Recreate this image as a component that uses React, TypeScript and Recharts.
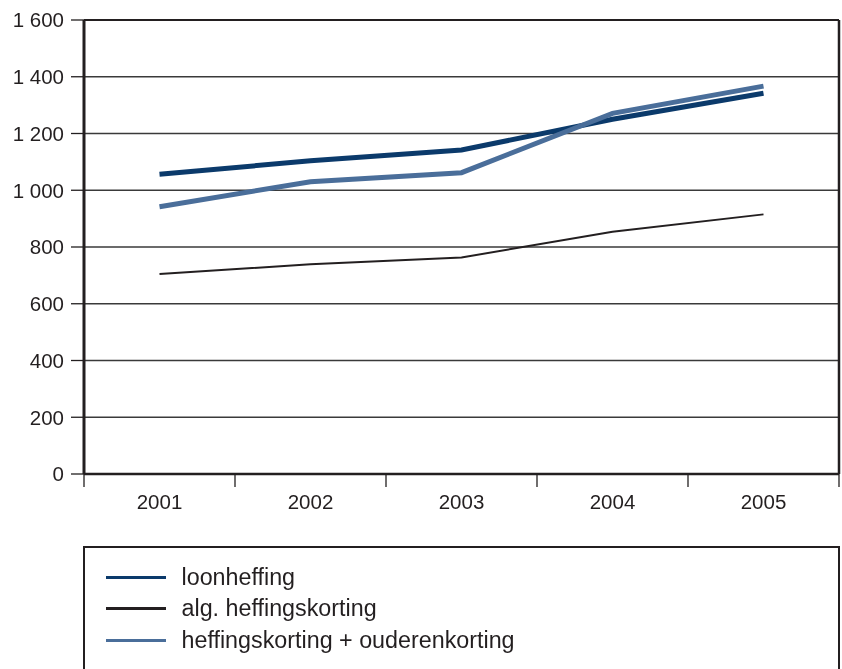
import { CartesianGrid, Legend, Line, LineChart, ReferenceLine, XAxis, YAxis } from 'recharts'

const years = ['2001', '2002', '2003', '2004', '2005']
const loonheffing = [1056, 1104, 1142, 1250, 1342]
const algHeffingskorting = [705, 739, 763, 854, 915]
const heffingsOuderenkorting = [942, 1030, 1062, 1271, 1367]
const yTicks = [0, 200, 400, 600, 800, 1000, 1200, 1400, 1600]

const INK = '#231f20'
const FONT = '"Liberation Sans", Arial, sans-serif'

const WIDTH = 842
const HEIGHT = 669
const Y_AXIS_WIDTH = 84
const MARGIN = { top: 20, right: 3, bottom: 155, left: 0 }
const PLOT_WIDTH = WIDTH - Y_AXIS_WIDTH - MARGIN.left - MARGIN.right
const BAND = PLOT_WIDTH / years.length

const series = [
  { key: 'loon', name: 'loonheffing', color: '#0b3a6b', width: 5 },
  { key: 'alg', name: 'alg. heffingskorting', color: INK, width: 2 },
  { key: 'ouder', name: 'heffingskorting + ouderenkorting', color: '#4a6e9a', width: 5 },
]

const data = years.map((year, i) => ({
  year,
  loon: loonheffing[i],
  alg: algHeffingskorting[i],
  ouder: heffingsOuderenkorting[i],
}))

// "1600" -> "1 600"
const fmt = (v: number) => String(v).replace(/\B(?=(\d{3})+(?!\d))/g, ' ')

// year label in the middle of its band, tick marks on the band edges
function YearTick(props: any) {
  const { x, y, payload, index } = props
  const left = x - BAND / 2
  const right = x + BAND / 2
  return (
    <g>
      <line x1={left} x2={left} y1={y} y2={y + 13} stroke={INK} strokeWidth={1.3} />
      {index === years.length - 1 && (
        <line x1={right} x2={right} y1={y} y2={y + 13} stroke={INK} strokeWidth={1.3} />
      )}
      <text x={x} y={y + 35} textAnchor='middle' fill={INK} fontSize={20.5} fontFamily={FONT}>
        {payload.value}
      </text>
    </g>
  )
}

function LegendBox() {
  return (
    <div
      style={{
        boxSizing: 'border-box',
        width: 757,
        height: 140,
        border: `2.5px solid ${INK}`,
        padding: '13.6px 0 0 20.5px',
        fontFamily: FONT,
        fontSize: 23.3,
        color: INK,
      }}
    >
      {series.map((s) => (
        <div key={s.key} style={{ display: 'flex', alignItems: 'center', height: 31.7 }}>
          <span style={{ width: 60, height: 3, background: s.color, marginRight: 16 }} />
          <span>{s.name}</span>
        </div>
      ))}
    </div>
  )
}

export default function App() {
  return (
    <div style={{ position: 'fixed', left: 0, top: 0 }}>
      <LineChart width={WIDTH} height={HEIGHT} data={data} margin={MARGIN}>
        <CartesianGrid vertical={false} stroke='#3a3a3a' strokeWidth={1.3} />
        <XAxis
          dataKey='year'
          scale='band'
          tickSize={0}
          tickMargin={0}
          height={40}
          tick={<YearTick />}
          tickLine={false}
          axisLine={{ stroke: INK, strokeWidth: 2.5 }}
          interval={0}
        />
        <YAxis
          domain={[0, 1600]}
          ticks={yTicks}
          width={Y_AXIS_WIDTH}
          tickSize={13}
          tickMargin={7}
          tickFormatter={fmt}
          tick={{ fill: INK, fontSize: 20.5, fontFamily: FONT }}
          tickLine={{ stroke: INK, strokeWidth: 1.3 }}
          axisLine={{ stroke: INK, strokeWidth: 3 }}
        />
        {/* top and right edges of the frame */}
        <ReferenceLine y={1600} stroke={INK} strokeWidth={2} />
        <ReferenceLine x={years[years.length - 1]} position='end' stroke={INK} strokeWidth={2.5} />
        {series.map((s) => (
          <Line
            key={s.key}
            type='linear'
            dataKey={s.key}
            name={s.name}
            stroke={s.color}
            strokeWidth={s.width}
            dot={false}
            activeDot={false}
            isAnimationActive={false}
          />
        ))}
        <Legend
          layout='horizontal'
          verticalAlign='middle'
          align='center'
          content={<LegendBox />}
          wrapperStyle={{ left: 83, top: 545.7, width: 757, height: 140 }}
        />
      </LineChart>
    </div>
  )
}
